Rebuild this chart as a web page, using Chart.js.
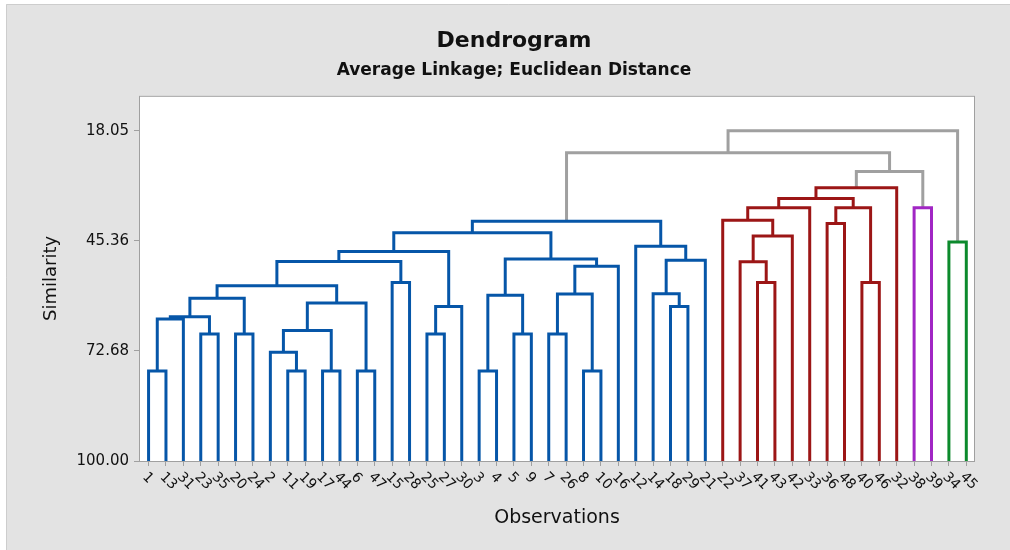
<!DOCTYPE html>
<html>
<head>
<meta charset="utf-8">
<script src="https://cdn.jsdelivr.net/npm/chart.js@4/dist/chart.umd.min.js"></script>
<style>
  html, body { margin: 0; padding: 0; background: #fff; }
  #wrap { width: 1010px; height: 550px; }
</style>
</head>
<body>
<div id="wrap"><canvas id="dendro" width="1010" height="550"></canvas></div>
<script>
// leaf order along the x axis (observation numbers)
const observations = [1,13,31,23,35,20,24,2,11,19,17,44,6,47,15,28,25,27,30,3,4,5,9,7,26,8,10,16,12,14,18,29,21,22,37,41,43,42,33,36,48,40,46,32,38,39,34,45];

// merges: leaves are 0..47 by position, merge k creates node 48+k
const linkLeft  = [0,48,3,49,5,51,8,7,10,55,12,57,53,14,60,16,63,62,19,21,66,23,25,69,71,68,65,30,29,76,28,74,35,34,81,33,83,39,41,85,84,88,44,89,79,46,92];
const linkRight = [1,2,4,50,6,52,9,54,11,56,13,58,59,15,61,17,18,64,20,22,67,24,26,70,27,72,73,31,75,32,77,78,36,80,37,82,38,40,42,86,87,43,45,90,91,47,93];
const linkSimilarity = [77.7,64.8,68.5,64.2,68.5,59.6,77.7,73.0,77.7,67.6,77.7,60.8,56.5,55.7,50.5,68.5,61.7,48.0,77.7,68.5,58.9,68.5,77.7,58.6,51.7,49.9,43.4,61.7,58.5,50.2,46.7,40.5,55.7,50.6,44.2,40.3,37.2,41.1,55.7,37.2,34.9,32.2,37.2,28.2,23.5,45.7,18.05];

// final partition (consecutive leaves per cluster)
const clusterSizes = [33, 11, 2, 2];
const yTicks = [100, 72.68, 45.36, 18.05];

const clusterColors = ['#0656a8', '#9c1616', '#a126c4', '#0c8a2c'];
const joinColor = '#a0a0a0';
const FONT = "'DejaVu Sans', 'Noto Sans', sans-serif";

// build node positions / heights / groups
const nLeaves = observations.length;
const pos = [], height = [], group = [];
let g = 0, cnt = 0;
for (let i = 0; i < nLeaves; i++) {
  if (cnt >= clusterSizes[g]) { g++; cnt = 0; }
  pos.push(i); height.push(100); group.push(g); cnt++;
}
const datasets = [];
linkLeft.forEach((a, k) => {
  const b = linkRight[k], s = linkSimilarity[k];
  const node = nLeaves + k;
  pos[node] = (pos[a] + pos[b]) / 2;
  height[node] = s;
  group[node] = group[a] === group[b] ? group[a] : -1;
  datasets.push({
    data: [{x: pos[a], y: height[a]}, {x: pos[a], y: s}, {x: pos[b], y: s}, {x: pos[b], y: height[b]}],
    borderColor: group[node] >= 0 ? clusterColors[group[node]] : joinColor,
    borderWidth: 3,
    borderJoinStyle: 'miter',
    pointRadius: 0,
    tension: 0,
    fill: false
  });
});

const backdrop = {
  id: 'backdrop',
  beforeDraw(chart) {
    const {ctx, chartArea: a} = chart;
    ctx.save();
    ctx.fillStyle = '#fff';
    ctx.fillRect(0, 0, chart.width, chart.height);
    ctx.fillStyle = '#e3e3e3';
    ctx.fillRect(6, 4, chart.width - 6, chart.height - 4);
    ctx.strokeStyle = '#cdcdcd';
    ctx.lineWidth = 1;
    ctx.beginPath();
    ctx.moveTo(6.5, chart.height); ctx.lineTo(6.5, 4.5); ctx.lineTo(chart.width, 4.5);
    ctx.stroke();
    ctx.fillStyle = '#fff';
    ctx.fillRect(a.left, a.top, a.right - a.left, a.bottom - a.top);
    ctx.restore();
  },
  afterDraw(chart) {
    const {ctx, chartArea: a} = chart;
    const xs = chart.scales.x;
    ctx.save();
    ctx.strokeStyle = '#a0a0a0';
    ctx.lineWidth = 1;
    ctx.strokeRect(a.left + 0.5, a.top + 0.5, a.right - a.left - 1, a.bottom - a.top);
    // rotated observation labels
    ctx.fillStyle = '#111';
    ctx.font = '14px ' + FONT;
    ctx.textAlign = 'left';
    ctx.textBaseline = 'middle';
    observations.forEach((o, i) => {
      const x = xs.getPixelForValue(i);
      ctx.save();
      ctx.translate(x - 4, xs.top + 14);
      ctx.rotate(Math.PI / 4);
      ctx.fillText(String(o), 0, 0);
      ctx.restore();
    });
    ctx.restore();
  }
};

new Chart(document.getElementById('dendro'), {
  type: 'line',
  data: { datasets },
  plugins: [backdrop],
  options: {
    responsive: false,
    animation: false,
    layout: { padding: { left: 18, right: 0, top: 4, bottom: 0 } },
    plugins: {
      legend: { display: false },
      tooltip: { enabled: false },
      title: {
        display: true, text: 'Dendrogram', color: '#111',
        font: { family: FONT, size: 22, weight: 'bold' },
        padding: { top: 24, bottom: 4 }
      },
      subtitle: {
        display: true, text: 'Average Linkage; Euclidean Distance', color: '#111',
        font: { family: FONT, size: 17, weight: 'bold' },
        padding: { top: 2, bottom: 15 }
      }
    },
    scales: {
      x: {
        type: 'linear', min: -0.55, max: 47.5,
        afterBuildTicks(s) { s.ticks = observations.map((_, i) => ({value: i})); },
        afterFit(s) { s.height = 89; },
        ticks: { display: false },
        grid: { display: true, drawOnChartArea: false, drawTicks: true, tickLength: 5, color: '#a0a0a0' },
        border: { display: false },
        title: {
          display: true, text: 'Observations', color: '#111',
          font: { family: FONT, size: 19 },
          padding: { top: 0, bottom: 21 }
        }
      },
      y: {
        reverse: true, min: 9.4, max: 100,
        afterBuildTicks(s) { s.ticks = yTicks.map(v => ({value: v})); },
        afterFit(s) { s.width = 121; },
        ticks: {
          color: '#111', padding: 5,
          font: { family: FONT, size: 15 },
          callback: v => v.toFixed(2)
        },
        grid: { display: true, drawOnChartArea: false, drawTicks: true, tickLength: 5, color: '#a0a0a0' },
        border: { display: false },
        title: {
          display: true, text: 'Similarity', color: '#111',
          font: { family: FONT, size: 18 },
          padding: { top: 23, bottom: 0 }
        }
      },
      y2: {
        position: 'right', display: true,
        afterFit(s) { s.width = 35; },
        ticks: { display: false },
        grid: { display: false },
        border: { display: false }
      }
    }
  }
});
</script>
</body>
</html>
